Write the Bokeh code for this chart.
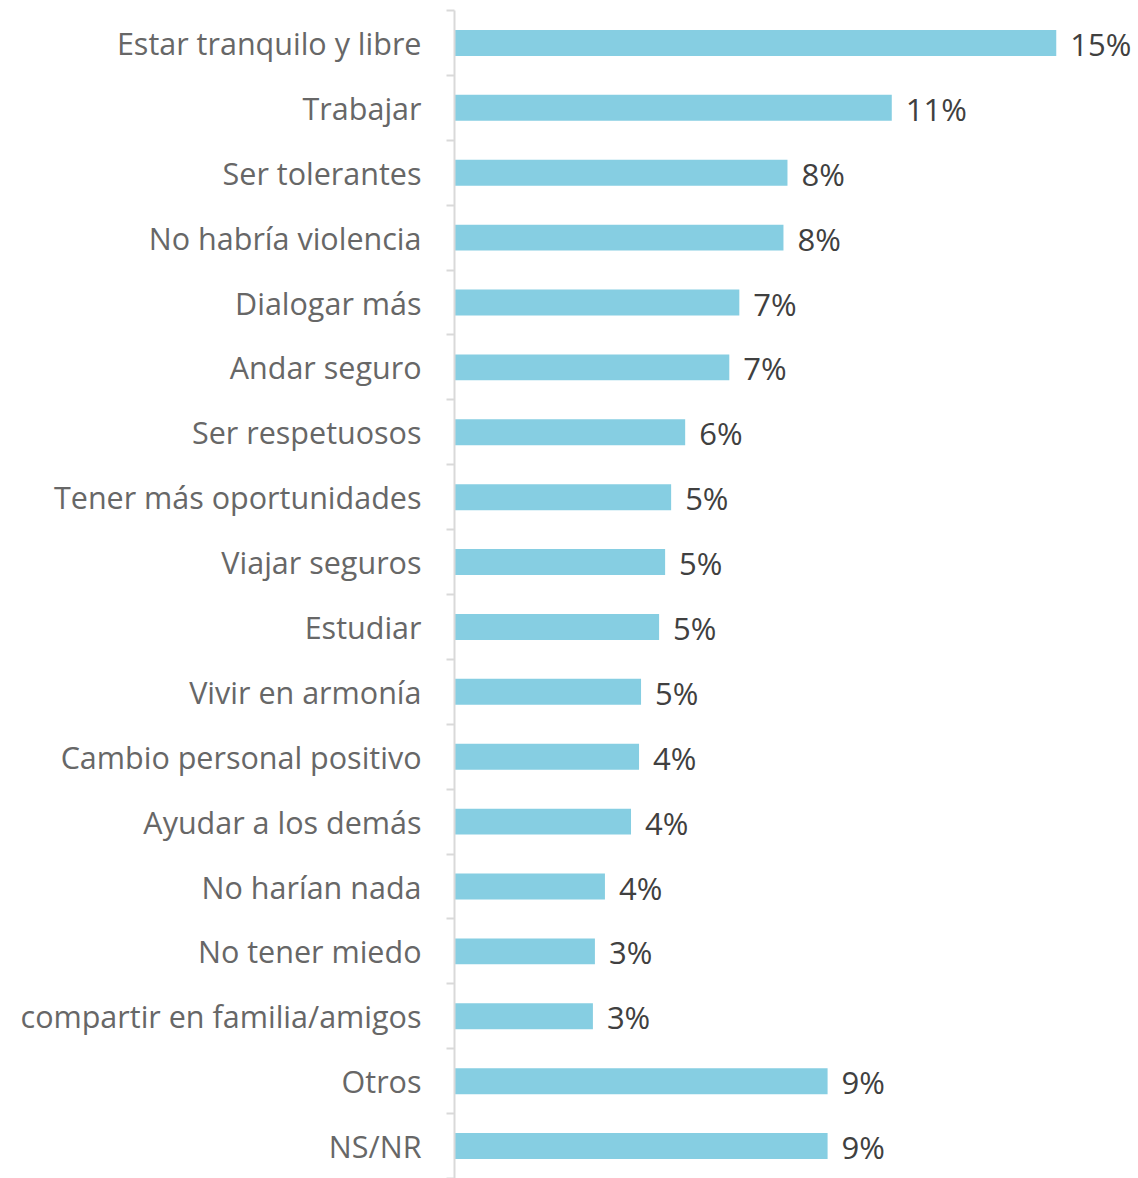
from bokeh.plotting import figure
from bokeh.models import ColumnDataSource, FixedTicker, Range1d, LabelSet
from bokeh.embed import file_html
from bokeh.resources import INLINE
from bokeh.core.properties import value

categories = ["Estar tranquilo y libre", "Trabajar", "Ser tolerantes", "No habría violencia",
              "Dialogar más", "Andar seguro", "Ser respetuosos", "Tener más oportunidades",
              "Viajar seguros", "Estudiar", "Vivir en armonía", "Cambio personal positivo",
              "Ayudar a los demás", "No harían nada", "No tener miedo",
              "compartir en familia/amigos", "Otros", "NS/NR"]
values = [15.0, 10.9, 8.3, 8.2, 7.1, 6.85, 5.75, 5.4, 5.25, 5.1, 4.65, 4.6, 4.4, 3.75, 3.5, 3.45, 9.3, 9.3]
labels = ["15%", "11%", "8%", "8%", "7%", "7%", "6%", "5%", "5%", "5%", "5%", "4%", "4%", "4%",
          "3%", "3%", "9%", "9%"]

n = len(categories)
ys = list(range(n))
src = ColumnDataSource(dict(y=ys, v=values, lab=labels, cat=categories))

p = figure(width=1138, height=1178, output_backend="svg", toolbar_location=None,
           x_range=Range1d(0, 17.05), y_range=Range1d(n - 0.5, -0.5),
           min_border_left=454, min_border_top=10, min_border_bottom=0, min_border_right=0,
           outline_line_color=None, x_axis_location=None)
p.grid.visible = False

p.hbar(y="y", left=0, right="v", height=0.4, source=src, color="#86CEE2", line_color=None)

p.add_layout(LabelSet(x="v", y="y", text="lab", source=src, x_offset=14, y_offset=-1,
                      text_baseline="middle", text_font=value("Open Sans"),
                      text_font_size="31px", text_color="#404040"))

yax = p.yaxis[0]
yax.ticker = FixedTicker(ticks=ys, minor_ticks=[i + 0.5 for i in range(-1, n)])
yax.major_label_overrides = {i: c for i, c in enumerate(categories)}
yax.major_tick_out = 0
yax.major_tick_in = 0
yax.minor_tick_out = 8
yax.minor_tick_in = 0
yax.minor_tick_line_color = "#D9D9D9"
yax.minor_tick_line_width = 2
yax.axis_line_color = "#D9D9D9"
yax.axis_line_width = 2
yax.major_label_standoff = 25
yax.major_label_text_font = "Open Sans"
yax.major_label_text_font_size = "30.5px"
yax.major_label_text_color = "#676767"

open("out.html", "w").write(file_html(p, INLINE))
